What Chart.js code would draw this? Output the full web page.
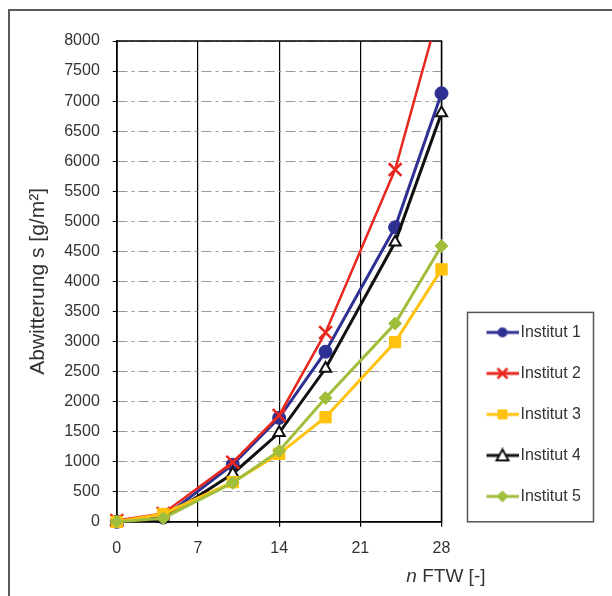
<!DOCTYPE html>
<html>
<head>
<meta charset="utf-8">
<script src="https://cdn.jsdelivr.net/npm/chart.js@4.4.1/dist/chart.umd.min.js"></script>
<style>
    html, body { margin: 0; padding: 0; background: #fff; }
    #wrap { position: relative; width: 612px; height: 596px; }
    #frame { position: absolute; left: 8px; top: 9px; right: 0; bottom: 0;
             border-top: 2px solid #5a5a5a; border-left: 2px solid #5a5a5a; pointer-events: none; }
</style>
</head>
<body>
<div id="wrap">
    <canvas id="chart" width="612" height="596"></canvas>
    <div id="frame"></div>
</div>
<script>
// chart.js

const cycles = [0, 4, 10, 14, 18, 24, 28];
const xTicks = [0, 7, 14, 21, 28];
const yTicks = [0, 500, 1000, 1500, 2000, 2500, 3000, 3500, 4000, 4500, 5000, 5500, 6000, 6500, 7000, 7500, 8000];

const labels = ['Institut 1', 'Institut 2', 'Institut 3', 'Institut 4', 'Institut 5'];
const inst1 = [0, 70, 950, 1730, 2830, 4900, 7130];
const inst2 = [20, 140, 990, 1770, 3150, 5860, 8650];
const inst3 = [0, 130, 660, 1130, 1740, 2990, 4200];
const inst4 = [0, 50, 800, 1480, 2550, 4650, 6800];
const inst5 = [0, 60, 650, 1180, 2060, 3300, 4590];

const FONT = '"Liberation Sans", Arial, sans-serif';
const blue = '#2e3192';
const red = '#e8281e';
const yellow = '#ffc20e';
const black = '#111111';
const green = '#a0be3c';

function toPoints(values) {
    return cycles.map((x, i) => ({ x: x, y: values[i] }));
}

// little line+marker pictures for the legend
function makeIcon(color, shape) {
    const c = document.createElement('canvas');
    c.width = 58;
    c.height = 16;
    const g = c.getContext('2d');
    g.strokeStyle = color;
    g.fillStyle = color;
    g.lineWidth = 3;
    g.beginPath();
    g.moveTo(26, 8);
    g.lineTo(58, 8);
    g.stroke();
    const cx = 42, cy = 8;
    g.lineWidth = 2;
    g.beginPath();
    if (shape === 'circle') {
        g.arc(cx, cy, 5, 0, 2 * Math.PI);
        g.fill();
    } else if (shape === 'cross') {
        g.lineWidth = 2.5;
        g.moveTo(cx - 5, cy - 5); g.lineTo(cx + 5, cy + 5);
        g.moveTo(cx + 5, cy - 5); g.lineTo(cx - 5, cy + 5);
        g.stroke();
    } else if (shape === 'square') {
        g.fillRect(cx - 5, cy - 5, 10, 10);
    } else if (shape === 'triangle') {
        g.moveTo(cx, cy - 6); g.lineTo(cx + 6, cy + 5); g.lineTo(cx - 6, cy + 5);
        g.closePath();
        g.fillStyle = '#fff';
        g.fill();
        g.stroke();
    } else if (shape === 'diamond') {
        g.moveTo(cx, cy - 6); g.lineTo(cx + 6, cy); g.lineTo(cx, cy + 6); g.lineTo(cx - 6, cy);
        g.closePath();
        g.fill();
    }
    return c;
}

const icons = [
    makeIcon(blue, 'circle'),
    makeIcon(red, 'cross'),
    makeIcon(yellow, 'square'),
    makeIcon(black, 'triangle'),
    makeIcon(green, 'diamond')
];

// black frame round the plot area
const plotFrame = {
    id: 'plotFrame',
    beforeDatasetsDraw(chart) {
        const a = chart.chartArea;
        const ctx = chart.ctx;
        ctx.save();
        ctx.strokeStyle = '#000';
        ctx.lineWidth = 1.5;
        ctx.strokeRect(a.left, a.top, a.right - a.left, a.bottom - a.top);
        ctx.restore();
    }
};

// box round the legend entries
const legendFrame = {
    id: 'legendFrame',
    afterDraw(chart) {
        const boxes = chart.legend.legendHitBoxes;
        if (!boxes.length) return;
        const ctx = chart.ctx;
        const left = boxes[0].left + 1;
        const top = boxes[0].top - 12;
        ctx.save();
        ctx.strokeStyle = '#555';
        ctx.lineWidth = 1.5;
        ctx.strokeRect(left, top, 126, chart.chartArea.bottom - top);
        ctx.restore();
    }
};

// x axis title with italic n
const xTitle = {
    id: 'xTitle',
    afterDraw(chart) {
        const a = chart.chartArea;
        const ctx = chart.ctx;
        const x = a.right + 44;
        const y = a.bottom + 60;
        const rest = ' FTW [-]';
        ctx.save();
        ctx.fillStyle = '#333';
        ctx.textAlign = 'right';
        ctx.textBaseline = 'alphabetic';
        ctx.font = '19px ' + FONT;
        ctx.fillText(rest, x, y);
        const w = ctx.measureText(rest).width;
        ctx.font = 'italic 19px ' + FONT;
        ctx.fillText('n', x - w, y);
        ctx.restore();
    }
};

const ctx = document.getElementById('chart').getContext('2d');

const chart = new Chart(ctx, {
    type: 'line',
    data: {
        datasets: [
            {
                label: labels[0], data: toPoints(inst1), order: 5,
                borderColor: blue, backgroundColor: blue, borderWidth: 3,
                pointStyle: 'circle', pointRadius: 6.5, pointBorderWidth: 1
            },
            {
                label: labels[1], data: toPoints(inst2), order: 3,
                borderColor: red, backgroundColor: red, borderWidth: 2.5,
                pointStyle: 'crossRot', pointRadius: 9, pointBorderWidth: 2.5
            },
            {
                label: labels[2], data: toPoints(inst3), order: 2,
                borderColor: yellow, backgroundColor: yellow, borderWidth: 3,
                pointStyle: 'rect', pointRadius: 8, pointBorderWidth: 1
            },
            {
                label: labels[3], data: toPoints(inst4), order: 4,
                borderColor: black, backgroundColor: '#fff', borderWidth: 3,
                pointStyle: 'triangle', pointRadius: 6.5, pointBorderWidth: 2,
                pointBackgroundColor: '#fff', pointBorderColor: black
            },
            {
                label: labels[4], data: toPoints(inst5), order: 1,
                borderColor: green, backgroundColor: green, borderWidth: 3,
                pointStyle: 'rectRot', pointRadius: 6.5, pointBorderWidth: 1
            }
        ]
    },
    options: {
        responsive: false,
        animation: false,
        events: [],
        layout: {
            padding: { left: 26, top: 41, right: 32, bottom: 26 }
        },
        datasets: {
            line: {
                tension: 0,
                clip: { left: 10, top: 0, right: 10, bottom: 10 }
            }
        },
        scales: {
            x: {
                type: 'linear',
                min: 0,
                max: 28,
                afterBuildTicks: axis => { axis.ticks = xTicks.map(v => ({ value: v })); },
                grid: { color: '#000', lineWidth: 1.2, tickColor: '#000', tickLength: 5 },
                border: { color: '#000', width: 1.5 },
                ticks: { color: '#333', padding: 12, font: { family: FONT, size: 16 }, callback: v => String(v) }
            },
            y: {
                min: 0,
                max: 8000,
                afterBuildTicks: axis => { axis.ticks = yTicks.map(v => ({ value: v })); },
                grid: { color: '#9a9a9a', lineWidth: 1, tickColor: '#000', tickLength: 4 },
                border: { color: '#000', width: 1.5, dash: [10, 4, 3, 4] },
                ticks: { color: '#333', padding: 13, font: { family: FONT, size: 16 }, callback: v => String(v) },
                title: {
                    display: true,
                    text: 'Abwitterung s [g/m²]',
                    color: '#333',
                    font: { family: FONT, size: 21 },
                    padding: { top: 0, bottom: 0 }
                }
            }
        },
        plugins: {
            tooltip: { enabled: false },
            legend: {
                position: 'right',
                align: 'start',
                title: { display: true, text: '', padding: { top: 244, bottom: 0 }, font: { size: 12 } },
                labels: {
                    usePointStyle: true,
                    pointStyleWidth: 46,
                    padding: 25,
                    color: '#333',
                    font: { family: FONT, size: 16 },
                    sort: (a, b) => a.datasetIndex - b.datasetIndex,
                    generateLabels: c => Chart.defaults.plugins.legend.labels.generateLabels(c)
                        .map(l => Object.assign(l, { pointStyle: icons[l.datasetIndex] }))
                }
            }
        }
    },
    plugins: [plotFrame, legendFrame, xTitle]
});
</script>
</body>
</html>
